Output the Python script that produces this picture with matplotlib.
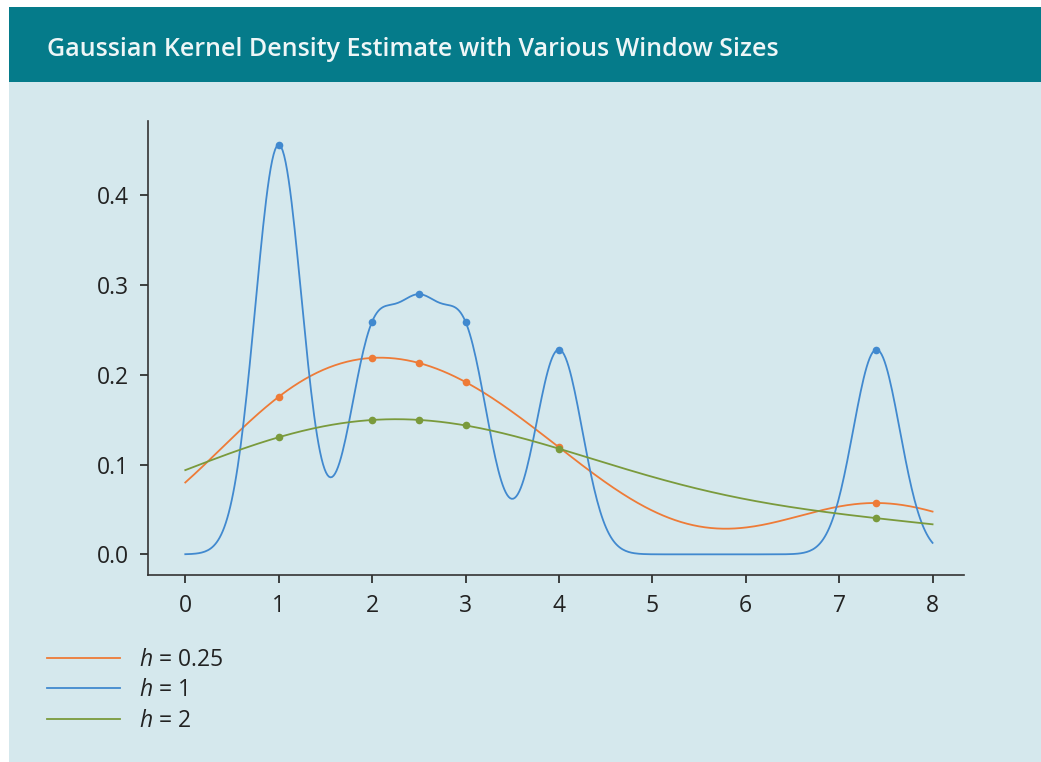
import numpy as np
import matplotlib
matplotlib.use("Agg")
import matplotlib.pyplot as plt
from matplotlib.patches import Rectangle

plt.rcParams['font.family'] = ['Open Sans', 'DejaVu Sans']
plt.rcParams['mathtext.fontset'] = 'custom'
plt.rcParams['mathtext.it'] = 'Open Sans:italic'
plt.rcParams['mathtext.rm'] = 'Open Sans'

# sample the estimate is built from, and the three bandwidths drawn
samples = [1, 1, 2, 2.5, 3, 4, 7.4]
marker_x = [1, 2, 2.5, 3, 4, 7.4]
bandwidths = [1, 0.25, 2]
labels = ["$h$ = 0.25", "$h$ = 1", "$h$ = 2"]
colors = ["#ee7b37", "#4189cf", "#7a9a3c"]
x_ticks = [0, 1, 2, 3, 4, 5, 6, 7, 8]
y_ticks = [0.0, 0.1, 0.2, 0.3, 0.4]

title = "Gaussian Kernel Density Estimate with Various Window Sizes"


def kde(x, data, h):
    x = np.asarray(x, dtype=float)[:, None]
    d = np.asarray(data, dtype=float)[None, :]
    k = np.exp(-0.5 * ((x - d) / h) ** 2) / (h * np.sqrt(2 * np.pi))
    return k.mean(axis=1)


W, H = 1041, 762
fig = plt.figure(figsize=(W / 100, H / 100), dpi=100)
fig.patch.set_facecolor("white")

# page background and title banner
fig.patches.append(Rectangle((9 / W, 0), 1, (H - 7) / H, transform=fig.transFigure,
                             facecolor="#d5e8ed", edgecolor="none", zorder=-10))
fig.patches.append(Rectangle((9 / W, (H - 82) / H), 1, 75 / H, transform=fig.transFigure,
                             facecolor="#057b8a", edgecolor="none", zorder=-9))
fig.text(47 / W, (H - 49) / H, title, color="#eef6f7", fontsize=18,
         fontweight="semibold", va="center", ha="left")

ax = fig.add_axes([148.3 / W, 187 / H, 816 / W, 454.3 / H])
ax.set_facecolor("none")

xs = np.linspace(0, 8, 500)
lines = []
for h, lab, c in zip(bandwidths, labels, colors):
    ln, = ax.plot(xs, kde(xs, samples, h), color=c, lw=1.3, label=lab)
    ax.plot(marker_x, kde(marker_x, samples, h), "o", color=c, ms=5.5, mec="none")
    lines.append(ln)

ax.set_xlim(-0.396, 8.34)
ax.set_ylim(-0.023, 0.4828)
ax.set_xticks(x_ticks)
ax.set_yticks(y_ticks)
ax.set_yticklabels([f"{v:.1f}" for v in y_ticks])
for s in ["top", "right"]:
    ax.spines[s].set_visible(False)
for s in ["left", "bottom"]:
    ax.spines[s].set_color("#333333")
    ax.spines[s].set_linewidth(1.2)
ax.tick_params(labelsize=16.5, colors="#222222", length=6, width=1.2, pad=8)

leg = fig.legend(handles=lines, loc="upper left",
                 bbox_to_anchor=(47 / W, (H - 648) / H), frameon=False,
                 fontsize=16.5, handlelength=3.2, handletextpad=0.8,
                 labelspacing=0.28, borderpad=0, borderaxespad=0)
for t in leg.get_texts():
    t.set_color("#222222")

fig.savefig("out.png", dpi=100)
